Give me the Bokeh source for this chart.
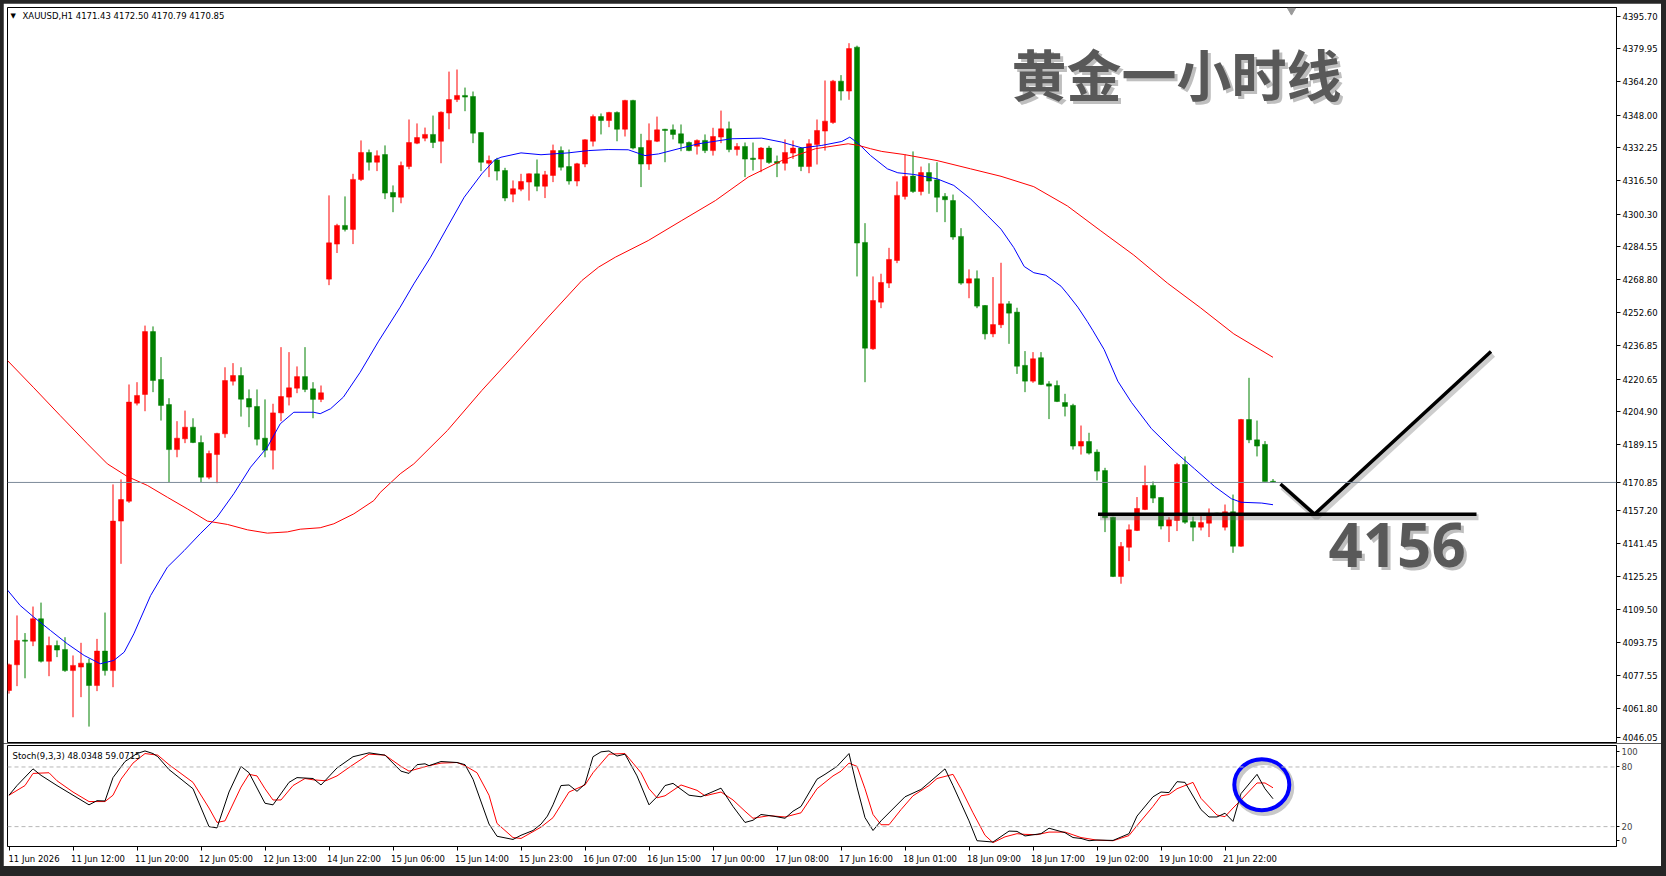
from bokeh.plotting import figure
from bokeh.models import (Range1d, FixedTicker, Span, Label,
                          PrintfTickFormatter, ColumnDataSource)
from bokeh.layouts import column
from bokeh.embed import file_html
from bokeh.resources import INLINE

# ---------------- data ----------------
opens = [4070.5, 4082.9, 4094.8, 4094.3, 4105.1, 4084.6, 4092.2, 4090.3, 4080.1, 4081.8,
         4083.7, 4072.9, 4089.5, 4080.1, 4152.2, 4161.8, 4209.1, 4213.3, 4243.6, 4220.5,
         4208.4, 4186.7, 4191.9, 4197.5, 4190.1, 4173.4, 4184.3, 4194.3, 4219.7, 4222.4,
         4211.3, 4207.5, 4192.2, 4186.4, 4204.4, 4212.0, 4216.3, 4221.9, 4216.0, 4210.9,
         4268.9, 4285.8, 4294.8, 4292.9, 4317.0, 4330.0, 4325.3, 4329.0, 4310.7, 4308.4,
         4323.2, 4334.5, 4336.9, 4338.7, 4335.4, 4349.0, 4355.5, 4357.5, 4357.0, 4339.6,
         4324.8, 4326.4, 4321.3, 4309.9, 4312.3, 4315.7, 4319.7, 4313.7, 4318.9, 4330.9,
         4323.2, 4316.2, 4324.4, 4335.4, 4347.3, 4345.4, 4349.3, 4341.2, 4355.1, 4332.4,
         4324.4, 4335.4, 4341.2, 4340.9, 4339.0, 4334.8, 4333.0, 4335.8, 4330.9, 4337.4,
         4341.4, 4331.4, 4332.9, 4327.1, 4326.8, 4332.1, 4325.6, 4324.8, 4329.7, 4332.1,
         4323.2, 4333.8, 4340.3, 4344.5, 4364.4, 4359.6, 4380.8, 4286.6, 4235.3, 4257.8,
         4267.0, 4277.9, 4308.8, 4318.6, 4311.2, 4320.3, 4316.8, 4308.8, 4306.8, 4289.5,
         4267.0, 4269.1, 4256.2, 4242.5, 4246.9, 4257.0, 4253.0, 4227.3, 4219.7, 4231.0,
         4218.4, 4217.6, 4209.4, 4208.0, 4188.4, 4190.6, 4185.5, 4176.6, 4154.1, 4125.5,
         4139.6, 4147.7, 4157.8, 4169.4, 4163.6, 4149.8, 4152.5, 4179.5, 4151.9, 4149.3,
         4151.2, 4155.9, 4149.3, 4156.7, 4140.1, 4201.2, 4191.4, 4189.2, 4171.43]
highs = [4083.5, 4106.7, 4098.2, 4111.0, 4112.9, 4096.5, 4094.6, 4096.2, 4087.4, 4093.5,
         4085.8, 4095.4, 4108.1, 4169.9, 4172.3, 4218.1, 4219.2, 4246.5, 4246.1, 4231.3,
         4211.5, 4200.4, 4205.5, 4201.8, 4193.5, 4186.2, 4194.8, 4226.4, 4228.4, 4226.4,
         4215.7, 4215.7, 4210.9, 4208.8, 4236.1, 4233.7, 4226.8, 4236.1, 4219.2, 4217.6,
         4309.3, 4295.6, 4308.8, 4319.7, 4335.8, 4331.4, 4331.0, 4333.4, 4314.1, 4325.6,
         4345.9, 4344.0, 4342.0, 4347.8, 4349.8, 4369.0, 4370.0, 4361.3, 4359.4, 4339.6,
         4328.5, 4327.4, 4322.6, 4316.5, 4319.7, 4319.9, 4326.6, 4321.1, 4333.8, 4332.9,
         4331.4, 4325.0, 4336.4, 4348.3, 4348.8, 4349.6, 4349.8, 4355.4, 4355.4, 4339.0,
         4344.0, 4347.3, 4341.4, 4343.5, 4343.5, 4335.3, 4336.3, 4338.7, 4341.9, 4350.2,
         4344.9, 4334.5, 4334.8, 4334.8, 4332.6, 4333.2, 4328.5, 4336.3, 4335.8, 4332.6,
         4336.4, 4345.9, 4364.7, 4365.0, 4367.3, 4382.7, 4381.5, 4295.9, 4270.2, 4271.5,
         4284.0, 4316.0, 4329.0, 4330.5, 4323.2, 4324.8, 4325.3, 4310.4, 4309.7, 4293.5,
         4273.6, 4273.1, 4256.4, 4269.9, 4276.8, 4258.3, 4255.1, 4234.2, 4233.7, 4233.7,
         4219.7, 4220.0, 4213.6, 4208.8, 4198.3, 4194.8, 4186.8, 4177.9, 4154.3, 4142.1,
         4150.6, 4163.8, 4179.0, 4171.3, 4163.8, 4154.1, 4180.3, 4183.4, 4154.4, 4154.6,
         4158.3, 4156.2, 4160.2, 4165.0, 4201.5, 4221.3, 4200.7, 4190.8, 4172.50]
lows = [4069.0, 4072.6, 4076.4, 4091.9, 4084.0, 4077.4, 4086.6, 4079.5, 4057.6, 4067.3,
        4053.1, 4070.2, 4077.7, 4072.1, 4131.6, 4161.0, 4208.0, 4205.2, 4214.4, 4200.7,
        4171.0, 4183.0, 4189.8, 4189.8, 4171.0, 4172.4, 4170.5, 4192.4, 4217.6, 4202.6,
        4197.5, 4188.7, 4183.0, 4177.1, 4200.4, 4208.0, 4213.9, 4214.4, 4201.8, 4209.6,
        4266.0, 4281.5, 4291.9, 4285.8, 4316.2, 4321.3, 4321.0, 4307.5, 4301.2, 4305.5,
        4321.9, 4334.0, 4335.4, 4332.1, 4324.8, 4341.2, 4354.3, 4349.9, 4334.5, 4321.0,
        4318.1, 4316.5, 4306.5, 4306.0, 4311.3, 4306.8, 4311.3, 4308.0, 4315.7, 4321.3,
        4314.5, 4313.7, 4322.9, 4332.9, 4338.7, 4342.2, 4335.4, 4337.7, 4331.5, 4313.3,
        4321.6, 4335.0, 4325.3, 4336.3, 4330.6, 4330.6, 4329.0, 4329.7, 4328.5, 4334.5,
        4330.1, 4328.5, 4318.1, 4321.3, 4320.5, 4324.5, 4318.1, 4321.3, 4326.9, 4321.0,
        4320.0, 4324.2, 4330.9, 4343.8, 4355.1, 4355.4, 4270.2, 4219.2, 4234.8, 4254.9,
        4264.6, 4276.6, 4307.3, 4310.5, 4309.3, 4310.1, 4301.2, 4296.4, 4287.9, 4266.2,
        4259.7, 4254.9, 4239.8, 4240.9, 4245.3, 4237.7, 4223.2, 4214.4, 4218.9, 4217.8,
        4201.4, 4209.6, 4202.7, 4186.7, 4184.3, 4184.3, 4171.8, 4146.9, 4125.2, 4122.0,
        4132.9, 4147.4, 4157.5, 4160.9, 4148.2, 4142.1, 4147.4, 4150.9, 4142.5, 4147.7,
        4144.5, 4155.3, 4147.7, 4136.9, 4139.8, 4189.8, 4183.4, 4171.3, 4170.79]
closes = [4082.9, 4094.6, 4094.3, 4105.1, 4084.6, 4092.2, 4090.0, 4080.1, 4082.6, 4083.7,
          4072.9, 4089.5, 4080.1, 4152.2, 4162.6, 4209.6, 4212.8, 4243.6, 4220.0, 4208.0,
          4186.7, 4192.2, 4197.5, 4190.1, 4173.4, 4184.8, 4194.5, 4220.0, 4222.4, 4211.0,
          4207.2, 4191.7, 4186.4, 4204.4, 4212.3, 4216.5, 4221.9, 4215.7, 4210.9, 4214.1,
          4286.4, 4294.8, 4292.9, 4317.0, 4330.0, 4325.3, 4328.4, 4310.4, 4308.5, 4323.7,
          4334.8, 4337.2, 4338.7, 4334.8, 4349.4, 4355.5, 4357.5, 4356.7, 4339.3, 4325.3,
          4326.1, 4321.0, 4308.0, 4312.5, 4316.0, 4319.7, 4313.7, 4319.2, 4330.9, 4322.9,
          4316.2, 4324.5, 4336.1, 4347.3, 4345.4, 4349.3, 4341.2, 4355.1, 4332.1, 4324.4,
          4335.8, 4340.9, 4340.6, 4338.7, 4334.5, 4330.9, 4335.8, 4330.9, 4337.7, 4341.4,
          4331.4, 4332.9, 4326.8, 4326.8, 4332.1, 4325.2, 4324.8, 4330.0, 4332.1, 4323.2,
          4334.2, 4340.6, 4345.1, 4364.4, 4359.6, 4380.1, 4286.3, 4235.6, 4258.6, 4267.3,
          4278.4, 4309.3, 4318.4, 4311.2, 4320.3, 4316.2, 4308.4, 4307.2, 4289.2, 4267.0,
          4269.1, 4255.9, 4242.5, 4247.0, 4257.0, 4252.5, 4226.9, 4219.7, 4230.5, 4218.1,
          4217.3, 4209.9, 4207.5, 4188.4, 4190.6, 4185.0, 4176.3, 4153.8, 4125.5, 4140.0,
          4148.0, 4158.3, 4169.4, 4163.3, 4149.8, 4152.8, 4179.5, 4151.7, 4149.3, 4151.5,
          4155.7, 4155.6, 4156.7, 4140.1, 4201.2, 4191.4, 4188.4, 4171.3, 4170.85]

# fast (blue) and slow (red) moving averages, read at points along the bars
ma_fast_bar = [-0.2, 1.4, 3.1, 5.2, 7.3, 9.4, 11.4, 13.1, 14.4, 15.6, 17.7, 19.8, 21.9, 23.9,
               26.0, 28.1, 30.2, 32.3, 33.9, 35.6, 38.1, 38.9, 40.2, 41.8, 43.9, 46.2, 48.9,
               50.6, 52.7, 54.8, 56.9, 59.1, 60.7, 61.5, 64.0, 66.5, 69.9, 72.4, 74.9, 77.4,
               79.5, 81.2, 84.1, 86.2, 90.3, 94.1, 96.6, 99.1, 101.6, 104.1, 105.1, 106.2,
               107.7, 109.8, 111.1, 113.1, 116.0, 118.1, 120.2, 122.3, 124.0, 125.6, 126.9,
               128.1, 129.6, 131.5, 132.3, 133.6, 134.8, 135.5, 136.9, 138.6, 140.3, 142.8,
               145.7, 148.2, 150.7, 152.8, 154.0, 156.6, 158.0]
ma_fast_val = [4119.0, 4111.5, 4105.9, 4099.4, 4093.0, 4087.4, 4083.4, 4085.0, 4089.0, 4097.8,
               4116.3, 4130.0, 4138.0, 4146.1, 4154.1, 4165.4, 4178.2, 4187.9, 4199.1, 4204.7,
               4204.7, 4204.0, 4206.4, 4212.0, 4224.0, 4239.0, 4255.4, 4266.6, 4279.5, 4294.0,
               4308.4, 4319.7, 4326.4, 4327.7, 4329.8, 4328.9, 4329.8, 4330.9, 4331.4, 4331.3,
               4328.5, 4329.3, 4332.2, 4334.2, 4336.6, 4336.9, 4335.0, 4332.2, 4333.4, 4335.3,
               4337.4, 4334.2, 4328.5, 4322.1, 4320.2, 4319.4, 4317.3, 4314.1, 4307.6, 4299.6,
               4293.0, 4284.1, 4275.0, 4272.0, 4270.8, 4265.5, 4261.8, 4255.4, 4248.4, 4244.0,
               4234.9, 4219.7, 4209.5, 4196.8, 4185.8, 4177.4, 4168.9, 4163.0, 4161.3, 4160.9,
               4160.1]
ma_slow_bar = [-0.2, 3.1, 6.4, 9.8, 12.3, 14.8, 17.3, 19.8, 22.3, 24.8, 27.3, 29.8, 32.3, 34.8,
               36.4, 38.9, 40.6, 43.1, 45.6, 46.4, 48.9, 50.6, 54.8, 59.1, 63.3, 67.4, 71.6,
               73.7, 75.8, 79.9, 84.1, 88.3, 92.4, 96.6, 100.8, 104.9, 106.2, 107.7, 109.1,
               111.9, 116.0, 120.2, 124.0, 128.1, 132.3, 136.4, 140.6, 144.8, 148.9, 153.1,
               158.0]
ma_slow_val = [4229.7, 4216.5, 4203.1, 4189.5, 4179.8, 4173.7, 4169.4, 4163.7, 4158.1, 4152.2,
               4150.6, 4148.0, 4146.4, 4147.0, 4148.3, 4149.0, 4150.9, 4155.7, 4162.1, 4166.0,
               4175.0, 4179.8, 4195.9, 4215.2, 4232.9, 4250.6, 4268.2, 4274.7, 4279.5, 4287.5,
               4297.2, 4306.8, 4318.1, 4326.1, 4331.8, 4334.2, 4333.4, 4331.8, 4330.5, 4329.0,
               4326.1, 4322.1, 4318.5, 4313.5, 4304.2, 4292.4, 4280.5, 4267.0, 4255.2, 4242.5,
               4231.2]

# Stochastic (9,3,3): %K (black) and %D (red), read at points along the bars
stoch_k_bar = [0, 1, 3, 4, 6, 8, 10, 11, 12, 13, 14.5, 16, 17, 18, 18.6, 20, 21, 23, 25, 26,
               27.5, 29, 30, 32, 33, 35, 36, 38, 39, 41, 43, 45, 47, 49, 50, 51, 52, 52.5, 54,
               56, 57, 58, 60, 61, 63, 64, 65.5, 66.5, 67.3, 68, 69, 70, 71, 72, 73, 74, 75,
               76, 77, 78.5, 80, 81, 82, 83, 85, 86.5, 89, 90.5, 92, 93, 94, 95.5, 97, 98, 99,
               101, 102, 103.5, 105, 106, 107, 108, 109, 112, 114, 115.5, 117, 118, 120, 121,
               123, 125, 126, 127, 129, 130, 132, 133, 134, 135, 136, 138, 140, 141, 143, 144,
               145, 145.5, 146, 147, 149, 150, 151, 152, 153, 154, 156, 157, 158]
stoch_k_val = [51.6, 61.3, 78.1, 71.6, 61.3, 51.6, 41.9, 46.1, 45.8, 69.3, 85.5, 93.5, 96.1,
               93.5, 90.3, 77.4, 71.0, 58.1, 20.0, 18.7, 54.8, 80.6, 74.2, 43.5, 41.9, 64.5,
               69.3, 68.4, 61.9, 79.0, 90.3, 94.2, 91.9, 75.8, 73.5, 82.3, 83.2, 81.3, 85.5,
               84.5, 82.3, 67.7, 22.6, 10.3, 7.1, 11.3, 16.1, 22.5, 30.6, 41.9, 61.3, 61.9,
               55.5, 62.9, 90.3, 95.2, 96.1, 91.0, 92.9, 71.0, 41.9, 50.0, 61.3, 63.5, 51.6,
               50.0, 58.7, 40.3, 24.2, 26.4, 32.2, 30.6, 28.4, 35.5, 40.3, 67.7, 72.6, 80.6,
               93.5, 59.7, 29.0, 16.1, 25.8, 50.0, 57.4, 67.7, 78.1, 61.3, 25.8, 5.8, 4.5,
               15.5, 15.2, 10.6, 12.9, 18.4, 13.9, 9.0, 8.1, 5.8, 6.5, 6.1, 12.9, 30.6, 50.0,
               54.8, 54.2, 59.7, 65.2, 64.5, 37.1, 29.7, 29.7, 33.5, 25.2, 53.2, 72.6, 58.1,
               48.0348]
stoch_d_bar = [0, 2, 3, 5, 6, 8, 10, 12, 13, 14, 15.5, 17, 18.6, 20, 23, 25, 26, 27, 29, 30,
               31, 32, 33, 34, 35.5, 37, 38, 39.6, 41, 42.7, 45, 47, 49, 50, 52.5, 54, 56, 57,
               58.5, 60, 61, 63, 64, 66.5, 68, 69, 70, 72, 73, 75, 77, 78, 79, 80, 81, 82, 84,
               86, 87, 89, 90.5, 92, 93, 95, 97, 99, 101, 103, 104, 105, 106, 107, 108, 109,
               110, 111.5, 113, 115, 116, 118, 119, 120.5, 122, 123, 124.5, 126, 127, 128.5,
               130, 132, 134, 136, 138, 140, 141, 143, 144, 145, 146, 148, 149, 151, 152, 153,
               154, 156, 157, 158]
stoch_d_val = [51.6, 61.3, 73.5, 74.2, 66.1, 54.8, 45.2, 45.2, 51.6, 67.7, 83.9, 93.5, 91.9,
               82.3, 64.5, 38.7, 24.2, 25.8, 59.7, 72.6, 71.0, 58.1, 46.8, 46.8, 61.3, 68.4,
               67.1, 66.1, 71.0, 80.6, 92.9, 91.9, 80.6, 75.8, 81.3, 83.9, 84.5, 81.3, 74.2,
               51.6, 23.2, 9.0, 8.1, 19.5, 29.0, 41.9, 54.8, 61.9, 74.2, 92.9, 93.5, 83.9,
               74.2, 58.1, 49.0, 51.0, 61.9, 56.5, 51.0, 54.8, 46.8, 35.5, 28.4, 31.0, 29.7,
               33.9, 58.1, 71.0, 75.8, 83.9, 80.6, 58.1, 32.2, 21.9, 21.9, 37.1, 51.0, 61.3,
               68.4, 72.6, 58.1, 33.9, 11.3, 3.9, 9.7, 12.9, 12.2, 11.9, 14.5, 14.5, 9.0, 6.4,
               5.8, 11.0, 21.0, 40.3, 51.0, 52.3, 58.1, 64.5, 48.4, 31.6, 30.0, 38.7, 46.8,
               63.9, 63.9, 59.0715]

time_tick_bars = [0, 8, 16, 24, 32, 40, 48, 56, 64, 72, 80, 88, 96, 104, 112, 120, 128, 136,
                  144, 152]
time_labels = ["11 Jun 2026", "11 Jun 12:00", "11 Jun 20:00", "12 Jun 05:00", "12 Jun 13:00",
               "14 Jun 22:00", "15 Jun 06:00", "15 Jun 14:00", "15 Jun 23:00", "16 Jun 07:00",
               "16 Jun 15:00", "17 Jun 00:00", "17 Jun 08:00", "17 Jun 16:00", "18 Jun 01:00",
               "18 Jun 09:00", "18 Jun 17:00", "19 Jun 02:00", "19 Jun 10:00", "21 Jun 22:00"]
price_ticks = [4395.70, 4379.95, 4364.20, 4348.00, 4332.25, 4316.50, 4300.30, 4284.55,
               4268.80, 4252.60, 4236.85, 4220.65, 4204.90, 4189.15, 4172.95, 4157.20,
               4141.45, 4125.25, 4109.50, 4093.75, 4077.55, 4061.80, 4046.05]
stoch_levels = [20, 80]
last_price = 4170.85
support_level = 4155.5
support_text = "4156"
title_text = "黄金一小时线"
header_text = "XAUUSD,H1  4171.43 4172.50 4170.79 4170.85"
stoch_text = "Stoch(9,3,3) 48.0348 59.0715"
highlight_bar, highlight_stoch = 156.6, 62.2   # circled stochastic peak

# ---------------- geometry helpers (pixel -> data) ----------------
BAR0_PX, BAR_PX = 8.5, 8.0
PRICE_REF, PRICE_REF_PX, PX_PER_PRICE = 4189.15, 444.0, 2.0734
STOCH_PX_PER_UNIT = 1.0333


def xd(px):
    return (px - BAR0_PX) / BAR_PX


def yd(py):
    return PRICE_REF - (py - PRICE_REF_PX) / PX_PER_PRICE


X0, X1 = xd(7), xd(1616)
Y0, Y1 = yd(742), yd(7)

UP, DOWN = "#ff0000", "#008000"
AX_FONT = "DejaVu Sans"
AX_SIZE = "8.5px"

x_range = Range1d(X0, X1)

# ---------------- main price panel ----------------
p = figure(width=1658, height=740, x_range=x_range, y_range=Range1d(Y0, Y1),
           output_backend="svg", toolbar_location=None,
           x_axis_location=None, y_axis_location="right",
           min_border_left=4, min_border_right=45, min_border_top=4, min_border_bottom=1,
           background_fill_color="white", border_fill_color="white",
           outline_line_color="black", outline_line_width=1)
p.xgrid.visible = False
p.ygrid.visible = False

# price axis: the label hidden under the current-price marker is replaced by the
# current price itself; the lowest label is lifted so it stays inside the panel
lowest_label_pos = yd(736.5)
axis_ticks = []
axis_overrides = {}
for t in price_ticks:
    if abs(t - last_price) < 5:
        continue
    if t == min(price_ticks):
        axis_ticks.append(lowest_label_pos)
        axis_overrides[lowest_label_pos] = f"{t:.2f}"
    else:
        axis_ticks.append(t)
axis_ticks.append(last_price)

ax = p.yaxis[0]
ax.ticker = FixedTicker(ticks=axis_ticks)
ax.formatter = PrintfTickFormatter(format="%.2f")
ax.major_label_overrides = axis_overrides
ax.major_tick_out = 4
ax.major_tick_in = 0
ax.minor_tick_out = 0
ax.minor_tick_in = 0
ax.major_label_standoff = 2
ax.major_label_text_font = AX_FONT
ax.major_label_text_font_size = AX_SIZE
ax.major_label_text_color = "black"
ax.axis_line_color = "black"

bars = list(range(len(opens)))
colors = [UP if c >= o else DOWN for o, c in zip(opens, closes)]
body_top, body_bot = [], []
for o, c in zip(opens, closes):
    t, b = max(o, c), min(o, c)
    if t - b < 0.5:
        m = (t + b) / 2
        t, b = m + 0.3, m - 0.3
    body_top.append(t)
    body_bot.append(b)

src = ColumnDataSource(dict(x=bars, o=opens, h=highs, l=lows, c=closes,
                            top=body_top, bot=body_bot, color=colors))
p.segment(x0="x", y0="l", x1="x", y1="h", color="color", line_width=1, source=src)
p.vbar(x="x", top="top", bottom="bot", width=0.625, fill_color="color",
       line_color="color", line_width=0.5, source=src)

p.line(ma_fast_bar, ma_fast_val, line_color="#0000ff", line_width=1)
p.line(ma_slow_bar, ma_slow_val, line_color="#ff0000", line_width=1)

p.add_layout(Span(location=last_price, dimension="width", line_color="#7d8b99", line_width=1))

# hand-drawn support line and V path with soft shadows
h_x = [xd(1097.5), xd(1476)]
v_x = [xd(1280), xd(1314), xd(1490.5)]
v_y = [yd(483.5), support_level, yd(351)]
sh_dx, sh_dy = 2.0 / BAR_PX, -3.0 / PX_PER_PRICE
p.line([x + sh_dx for x in h_x], [support_level + sh_dy] * 2, line_color="#707070",
       line_alpha=0.35, line_width=6)
p.line([x + sh_dx for x in v_x], [y + sh_dy for y in v_y], line_color="#707070",
       line_alpha=0.35, line_width=6)
p.line(h_x, [support_level] * 2, line_color="black", line_width=3.5)
p.line(v_x, v_y, line_color="black", line_width=3.5)

# title and level text with shadow
for dx, dy, col, alpha in [(3, 3, "#8a8a8a", 0.55), (0, 0, "#595959", 1.0)]:
    p.add_layout(Label(x=xd(1011 + dx), y=yd(71 + dy), text=title_text,
                       text_font="Noto Sans CJK SC", text_font_style="bold",
                       text_font_size="55px", text_color=col, text_alpha=alpha,
                       text_baseline="alphabetic", text_align="left"))
    p.add_layout(Label(x=xd(1328 + dx), y=yd(544 + dy), text=support_text,
                       text_font="Open Sans", text_font_style="bold",
                       text_font_size="60px", text_color=col, text_alpha=alpha,
                       text_baseline="alphabetic", text_align="left"))

# header
p.add_layout(Label(x=xd(10), y=yd(15), text="▼", text_font=AX_FONT,
                   text_font_size="7px", text_color="black", text_baseline="middle"))
p.add_layout(Label(x=xd(22), y=yd(15), text=header_text, text_font=AX_FONT,
                   text_font_size=AX_SIZE, text_color="black", text_baseline="middle"))
# chart shift marker
p.scatter([xd(1291)], [yd(10)], marker="inverted_triangle", size=8,
          fill_color="#9a9a9a", line_color="#9a9a9a")

# ---------------- stochastic panel ----------------
s = figure(width=1658, height=123, x_range=x_range, y_range=Range1d(0, 101.6),
           output_backend="svg", toolbar_location=None,
           x_axis_location="below", y_axis_location="right",
           min_border_left=4, min_border_right=45, min_border_top=2, min_border_bottom=16,
           background_fill_color="white", border_fill_color="white",
           outline_line_color="black", outline_line_width=1)
s.xgrid.visible = False
s.ygrid.visible = False

sy = s.yaxis[0]
sy.ticker = FixedTicker(ticks=[6.5, 20, 80, 95.1])
sy.major_label_overrides = {6.5: "0", 95.1: "100", 20: "20", 80: "80"}
sy.major_tick_out = 3
sy.major_tick_in = 0
sy.minor_tick_out = 0
sy.minor_tick_in = 0
sy.major_label_standoff = 2
sy.major_label_text_font = AX_FONT
sy.major_label_text_font_size = AX_SIZE
sy.axis_line_color = "black"

# time axis: tick marks at the bars (minor ticks), labels start just right of them
LABEL_SHIFT = 25.0 / BAR_PX
label_pos = [b + LABEL_SHIFT for b in time_tick_bars]
sx = s.xaxis[0]
sx.ticker = FixedTicker(ticks=label_pos, minor_ticks=time_tick_bars)
sx.major_label_overrides = {pos: lbl for pos, lbl in zip(label_pos, time_labels)}
sx.major_tick_out = 0
sx.major_tick_in = 0
sx.minor_tick_out = 4
sx.minor_tick_in = 0
sx.minor_tick_line_color = "black"
sx.major_label_standoff = 3
sx.major_label_text_font = AX_FONT
sx.major_label_text_font_size = AX_SIZE
sx.major_label_text_color = "black"
sx.axis_line_color = None

for lvl in stoch_levels:
    s.add_layout(Span(location=lvl, dimension="width", line_color="#b8b8b8",
                      line_width=1, line_dash="4 3"))

s.line(stoch_d_bar, stoch_d_val, line_color="#ff0000", line_width=1)
s.line(stoch_k_bar, stoch_k_val, line_color="black", line_width=1)

# hand-drawn blue ring around the latest stochastic turn, with a soft shadow
s.ellipse(x=[highlight_bar + 2.0 / BAR_PX], y=[highlight_stoch - 3.0 / STOCH_PX_PER_UNIT],
          width=55, height=51, width_units="screen", height_units="screen",
          fill_color=None, line_color="#606060", line_alpha=0.35, line_width=6)
s.ellipse(x=[highlight_bar], y=[highlight_stoch], width=55, height=51,
          width_units="screen", height_units="screen",
          fill_color=None, line_color="#0000ff", line_width=4)

s.add_layout(Label(x=xd(12), y=91.5, text=stoch_text, text_font=AX_FONT,
                   text_font_size=AX_SIZE, text_color="black", text_baseline="middle"))

layout = column(p, s, spacing=0,
                styles={"background-color": "#262626", "padding": "3px 5px 10px 3px"})

open("out.html", "w").write(file_html(layout, INLINE))
